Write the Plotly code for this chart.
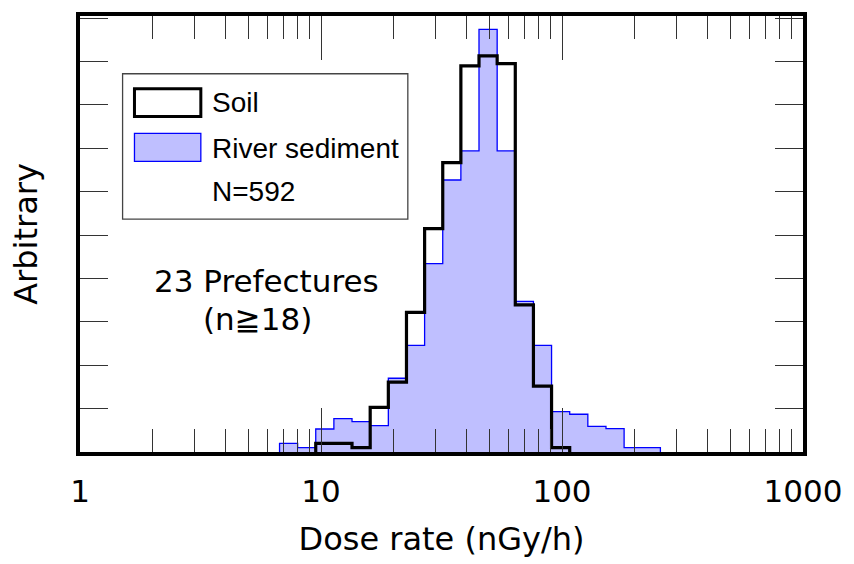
import plotly.graph_objects as go

# Bin edges (nGy/h), log-spaced bins (ratio 2^(1/4))
bin_edges = [6.73, 8.00, 9.51, 11.31, 13.45, 16.00, 19.03, 22.63, 26.91, 32.00,
             38.05, 45.25, 53.82, 64.00, 76.11, 90.51, 107.63, 128.00, 152.22,
             181.02, 215.27, 256.00]

# River sediment histogram heights (arbitrary units), one per bin
river_heights = [0.20, 0.10, 0.53, 0.77, 0.70, 0.61, 1.70, 2.46, 4.34, 6.27, 6.94,
                 9.74, 6.94, 3.47, 2.46, 0.93, 0.87, 0.59, 0.54, 0.10, 0.10]

# Soil histogram heights (arbitrary units), one per bin (0 = empty)
soil_heights = [0.00, 0.00, 0.20, 0.20, 0.10, 1.03, 1.61, 3.22, 5.15, 6.67, 8.90,
                9.13, 8.95, 3.39, 1.52, 0.10, 0.00, 0.00, 0.00, 0.00, 0.00]

x_ticks = [1, 10, 100, 1000]
x_tick_labels = ["1", "10", "100", "1000"]


def step_xy(edges, heights):
    """Build 'hv' step outline from the first to last non-empty bin."""
    idx = [i for i, h in enumerate(heights) if h > 0]
    a, b = idx[0], idx[-1]
    xs = [edges[a]]
    ys = [0]
    for i in range(a, b + 1):
        xs.append(edges[i])
        ys.append(heights[i])
    xs.append(edges[b + 1])
    ys.append(0)
    return xs, ys


fig = go.Figure()

rx, ry = step_xy(bin_edges, river_heights)
fig.add_trace(go.Scatter(
    x=rx, y=ry, mode="lines", line_shape="hv",
    line=dict(color="#0000FF", width=1.3),
    fill="tozeroy", fillcolor="#BFBFFF",
    name="River sediment", showlegend=False, hoverinfo="skip"))

sx, sy = step_xy(bin_edges, soil_heights)
fig.add_trace(go.Scatter(
    x=sx, y=sy, mode="lines", line_shape="hv",
    line=dict(color="#000000", width=3.2),
    name="Soil", showlegend=False, hoverinfo="skip"))

W, H = 854, 564
L, R, T, B = 80, 44, 16, 110
pw, ph = W - L - R, H - T - B


def px(x):
    return (x - L) / pw


def py(y):
    return (H - B - y) / ph


# Legend box (drawn manually)
shapes = [
    dict(type="rect", xref="paper", yref="paper",
         x0=px(123), x1=px(411), y0=py(220), y1=py(74),
         line=dict(color="#444444", width=1.3), fillcolor="white", layer="above"),
    dict(type="rect", xref="paper", yref="paper",
         x0=px(135), x1=px(202), y0=py(117), y1=py(89),
         line=dict(color="black", width=3), fillcolor="rgba(0,0,0,0)", layer="above"),
    dict(type="rect", xref="paper", yref="paper",
         x0=px(135), x1=px(202), y0=py(162), y1=py(134),
         line=dict(color="#0000FF", width=1.3), fillcolor="#BFBFFF", layer="above"),
]

leg_font = dict(family="Liberation Sans, Arial", size=28, color="black")
txt_font = dict(family="DejaVu Sans", size=31, color="black")
annotations = [
    dict(text="Soil", xref="paper", yref="paper", x=px(211), y=py(103),
         xanchor="left", yanchor="middle", showarrow=False, font=leg_font),
    dict(text="River sediment", xref="paper", yref="paper", x=px(211), y=py(149),
         xanchor="left", yanchor="middle", showarrow=False, font=leg_font),
    dict(text="N=592", xref="paper", yref="paper", x=px(211), y=py(192),
         xanchor="left", yanchor="middle", showarrow=False, font=leg_font),
    dict(text="23 Prefectures", xref="paper", yref="paper", x=px(268), y=py(282),
         xanchor="center", yanchor="middle", showarrow=False, font=txt_font),
    dict(text="(n≧18)", xref="paper", yref="paper", x=px(259), y=py(320),
         xanchor="center", yanchor="middle", showarrow=False, font=txt_font),
]

fig.update_layout(
    width=W, height=H,
    margin=dict(l=L, r=R, t=T, b=B, pad=0),
    paper_bgcolor="white", plot_bgcolor="white",
    shapes=shapes, annotations=annotations,
    showlegend=False,
    xaxis=dict(
        type="log", range=[0, 3],
        tickmode="array", tickvals=x_ticks, ticktext=x_tick_labels,
        ticks="inside", ticklen=44, tickwidth=1.3, tickcolor="#333333",
        minor=dict(ticks="inside", ticklen=23, tickwidth=1.3, tickcolor="#333333",
                   dtick="D1", showgrid=False),
        showline=True, linewidth=3.8, linecolor="black", mirror="allticks",
        showgrid=False, zeroline=False,
        tickfont=dict(family="DejaVu Sans", size=31, color="black"),
        ticklabelstandoff=9,
        title=dict(text="Dose rate (nGy/h)", standoff=21,
                   font=dict(family="DejaVu Sans", size=32, color="black")),
    ),
    yaxis=dict(
        range=[0, 10.05], tickmode="linear", tick0=0, dtick=1,
        ticks="inside", ticklen=28, tickwidth=1.3, tickcolor="#333333",
        showticklabels=False,
        showline=True, linewidth=3.8, linecolor="black", mirror="allticks",
        showgrid=False, zeroline=False,
        title=dict(text="Arbitrary", standoff=30,
                   font=dict(family="DejaVu Sans", size=32, color="black")),
    ),
)

fig.write_html("out.html")
